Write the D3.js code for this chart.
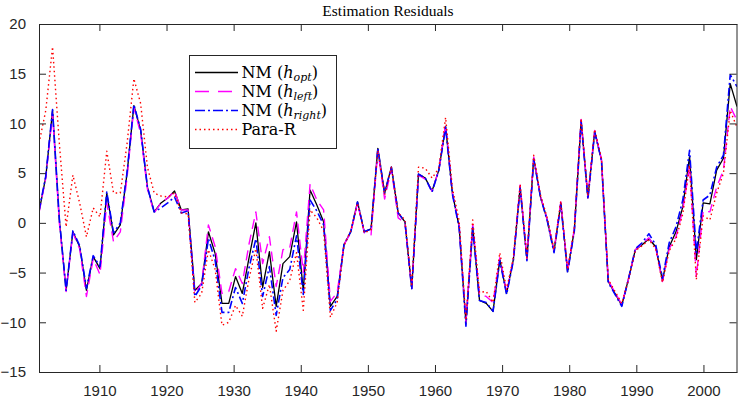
<!DOCTYPE html>
<html>
<head>
<meta charset="utf-8">
<script src="https://cdn.jsdelivr.net/npm/d3@7"></script>
<style>
  body { margin: 0; background: #fff; }
  svg { display: block; }
</style>
</head>
<body>
<svg class="svgResid"></svg>
<script>
// Residual series, 104 evenly spaced points from 1901 to 2005.
var hOpt = [1.1, 4.6, 11.3, 0.3, -6.8, -0.9, -2.4, -6.8, -3.4, -4.6,
    3.0, -1.2, -0.2, 5.0, 11.8, 9.3, 3.6, 1.1, 2.0, 2.5,
    3.2, 1.3, 1.4, -6.8, -6.1, -0.9, -3.1, -8.1, -8.1, -5.4,
    -7.1, -3.5, 0.0, -6.5, -2.9, -8.4, -4.1, -3.4, 0.1, -6.8,
    3.3, 1.8, 0.1, -8.4, -7.4, -2.2, -0.9, 2.1, -0.9, -0.6,
    7.5, 3.0, 5.6, 1.0, 0.1, -6.6, 4.9, 4.5, 3.2, 5.3,
    9.7, 3.0, -0.4, -10.1, -0.4, -7.8, -8.1, -8.9, -3.7, -7.1,
    -3.7, 3.6, -3.7, 6.5, 2.6, 0.3, -2.9, 2.0, -4.9, -0.7,
    10.3, 2.5, 9.2, 6.3, -5.9, -7.1, -8.3, -5.6, -2.7, -2.2,
    -1.6, -2.4, -5.8, -2.4, -0.9, 1.6, 6.7, -3.7, 2.0, 1.9,
    5.3, 6.5, 14.0, 11.7];

var hLeft = [1.0, 4.5, 11.0, 0.0, -6.9, -1.0, -2.6, -7.4, -3.6, -5.2,
    2.0, -1.9, -0.9, 4.6, 11.6, 9.0, 3.4, 1.0, 2.0, 2.5,
    3.2, 1.3, 1.3, -7.1, -6.1, -0.2, -2.4, -7.1, -6.9, -4.6,
    -6.1, -2.1, 1.1, -4.1, -1.4, -6.4, -2.7, -2.5, 1.1, -5.0,
    3.9, 2.3, 1.3, -7.9, -7.0, -2.2, -1.0, 2.0, -1.0, -1.2,
    7.3, 2.4, 5.4, 0.5, 0.0, -6.6, 4.8, 4.4, 3.2, 5.3,
    9.9, 3.0, -0.3, -10.0, -0.2, -7.2, -7.4, -8.0, -3.5, -7.0,
    -3.7, 3.8, -3.6, 6.6, 2.7, 0.3, -2.8, 2.1, -4.8, -0.6,
    10.4, 2.5, 9.3, 6.4, -5.8, -7.0, -8.2, -5.6, -2.7, -2.1,
    -1.5, -2.5, -5.9, -2.6, -1.4, 1.3, 5.7, -5.4, 1.2, 1.1,
    3.6, 5.3, 11.7, 10.3];

var hRight = [1.2, 4.7, 11.4, 0.4, -6.8, -0.8, -2.3, -6.6, -3.3, -4.4,
    3.1, -1.0, 0.0, 5.1, 11.9, 9.4, 3.6, 1.1, 1.5, 2.0,
    2.6, 1.0, 1.2, -7.4, -6.3, -1.6, -3.8, -9.0, -9.0, -6.5,
    -8.1, -4.5, -1.6, -7.4, -4.4, -9.3, -5.5, -4.7, -1.3, -7.2,
    2.3, 1.2, -0.2, -8.8, -7.7, -2.2, -0.9, 2.1, -0.9, -0.6,
    7.5, 3.0, 5.6, 1.0, 0.1, -6.7, 4.9, 4.5, 3.1, 5.3,
    9.6, 2.9, -0.5, -10.4, -0.5, -7.8, -8.0, -8.9, -3.8, -7.2,
    -3.8, 3.5, -3.8, 6.4, 2.6, 0.2, -3.0, 1.9, -5.0, -0.8,
    10.2, 2.4, 9.1, 6.3, -6.0, -7.2, -8.4, -5.6, -2.6, -2.0,
    -1.1, -2.2, -5.6, -2.0, -0.4, 2.3, 7.3, -3.0, 2.3, 2.8,
    5.6, 6.8, 14.9, 13.7];

var paraR = [8.0, 11.3, 17.7, 8.0, -0.4, 4.8, 2.0, -1.4, 1.5, 0.6,
    7.2, 3.0, 3.0, 8.0, 14.5, 12.0, 5.6, 3.0, 2.7, 2.6,
    3.0, 1.0, 0.9, -8.0, -7.1, -2.7, -4.7, -10.3, -10.0, -8.3,
    -9.4, -5.6, -2.6, -8.6, -6.2, -10.9, -6.8, -5.8, -3.0, -8.8,
    1.3, 0.5, -0.8, -9.5, -8.0, -2.3, -0.8, 2.0, -1.0, -0.7,
    7.3, 2.8, 5.6, 1.0, 0.3, -6.4, 5.6, 5.5, 4.5, 5.5,
    10.6, 3.5, 0.2, -9.8, 0.3, -7.0, -6.9, -8.0, -3.0, -6.7,
    -3.5, 3.9, -3.5, 6.8, 2.8, 0.5, -2.7, 2.2, -4.7, -0.5,
    10.5, 2.7, 9.4, 6.5, -5.7, -6.9, -8.1, -5.7, -2.8, -2.3,
    -1.7, -2.6, -6.0, -2.8, -1.6, 0.9, 5.8, -5.7, 0.7, 0.3,
    3.0, 5.0, 11.3, 9.6];

var yearRange = [1901, 2005];
var yearTicks = [1910, 1920, 1930, 1940, 1950, 1960, 1970, 1980, 1990, 2000];
var valueTicks = [-15, -10, -5, 0, 5, 10, 15, 20];

var width = 738, height = 400;
var margin = {top: 24, right: 1, bottom: 28, left: 39};
var axisColor = "#262626";

var svg = d3.select(".svgResid")
    .attr("width", width)
    .attr("height", height);

var x = d3.scaleLinear()
    .domain(yearRange)
    .range([margin.left, width - margin.right]);

// points are spread evenly over the year range
var pos = d3.scaleLinear()
    .domain([0, hOpt.length - 1])
    .range(yearRange);

var y = d3.scaleLinear()
    .domain([-15, 20])
    .range([height - margin.bottom, margin.top]);

svg.append("clipPath")
    .attr("id", "plotClip")
    .append("rect")
    .attr("x", x.range()[0])
    .attr("y", y.range()[1])
    .attr("width", x.range()[1] - x.range()[0])
    .attr("height", y.range()[0] - y.range()[1]);

var line = d3.line()
    .x(function (d, i) { return x(pos(i)); })
    .y(function (d) { return y(d); });

var series = [
    {values: hOpt, color: "#000000", dash: null, w: 1.3},
    {values: hLeft, color: "#ff00ff", dash: "10,6", w: 1.4},
    {values: hRight, color: "#0000ff", dash: "8,3,2,3", w: 1.6},
    {values: paraR, color: "#ff0000", dash: "1.5,3", w: 1.4}
];

svg.append("g")
    .attr("clip-path", "url(#plotClip)")
    .selectAll("path")
    .data(series)
    .enter()
    .append("path")
    .attr("d", function (d) { return line(d.values); })
    .attr("fill", "none")
    .attr("stroke", function (d) { return d.color; })
    .attr("stroke-width", function (d) { return d.w; })
    .attr("stroke-dasharray", function (d) { return d.dash; })
    .attr("stroke-linejoin", "round");

// Axes, MATLAB style: box all round with inward ticks.
var xAxisB = d3.axisBottom(x).tickValues(yearTicks).tickFormat(d3.format("d"))
    .tickSizeInner(-7).tickSizeOuter(0).tickPadding(13);
var xAxisT = d3.axisTop(x).tickValues(yearTicks).tickFormat("")
    .tickSizeInner(-7).tickSizeOuter(0);
var yAxisL = d3.axisLeft(y).tickValues(valueTicks)
    .tickSizeInner(-7).tickSizeOuter(0).tickPadding(13);
var yAxisR = d3.axisRight(y).tickValues(valueTicks).tickFormat("")
    .tickSizeInner(-7).tickSizeOuter(0);

var axes = [
    svg.append("g").attr("transform", "translate(0," + y(-15) + ")").call(xAxisB),
    svg.append("g").attr("transform", "translate(0," + y(20) + ")").call(xAxisT),
    svg.append("g").attr("transform", "translate(" + x(yearRange[0]) + ",0)").call(yAxisL),
    svg.append("g").attr("transform", "translate(" + (x(yearRange[1]) - 0.5) + ",0)").call(yAxisR)
];

axes.forEach(function (g) {
    g.select(".domain").attr("stroke", axisColor);
    g.selectAll(".tick line").attr("stroke", axisColor);
    g.selectAll(".tick text")
        .attr("fill", axisColor)
        .style("font-family", "'Liberation Sans', Arial, sans-serif")
        .style("font-size", "15px");
});

// Title
svg.append("text")
    .attr("x", (x.range()[0] + x.range()[1]) / 2)
    .attr("y", 16)
    .attr("text-anchor", "middle")
    .style("font-family", "'Liberation Serif', 'Times New Roman', serif")
    .style("font-size", "15.5px")
    .attr("fill", "#000")
    .text("Estimation Residuals");

// Legend
var legendItems = [
    {sub: "opt", color: "#000000", dash: null, w: 1.3},
    {sub: "left", color: "#ff00ff", dash: "14,9", w: 1.4},
    {sub: "right", color: "#0000ff", dash: "10,3,2,3", w: 1.6},
    {sub: null, label: "Para-R", color: "#ff0000", dash: "1.5,3", w: 1.4}
];

var legend = svg.append("g")
    .attr("transform", "translate(189.5,55.5)");

legend.append("rect")
    .attr("width", 147)
    .attr("height", 93)
    .attr("fill", "#fff")
    .attr("stroke", axisColor)
    .attr("stroke-width", 1);

var item = legend.selectAll(".item")
    .data(legendItems)
    .enter()
    .append("g")
    .attr("class", "item")
    .attr("transform", function (d, i) {
        return "translate(0," + (17 + i * 19) + ")";
    });

item.append("line")
    .attr("x1", 5.5)
    .attr("x2", 48.5)
    .attr("stroke", function (d) { return d.color; })
    .attr("stroke-width", function (d) { return d.w; })
    .attr("stroke-dasharray", function (d) { return d.dash; });

var label = item.append("text")
    .attr("x", 52)
    .attr("y", 5)
    .style("font-family", "'DejaVu Serif', 'Liberation Serif', serif")
    .style("font-size", "16px")
    .attr("fill", "#000");

label.each(function (d) {
    var t = d3.select(this);
    if (!d.sub) {
        t.text(d.label);
        return;
    }
    t.append("tspan").text("NM (");
    t.append("tspan").style("font-style", "italic").text("h");
    t.append("tspan").style("font-style", "italic").style("font-size", "11px")
        .attr("dy", 3).text(d.sub);
    t.append("tspan").attr("dy", -3).text(")");
});
</script>
</body>
</html>
